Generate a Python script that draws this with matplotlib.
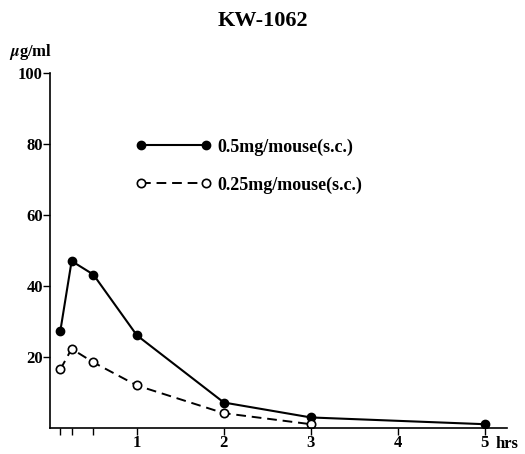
"""Serum concentration of KW-1062 after s.c. dosing in mice, two dose levels."""

import matplotlib

matplotlib.use("Agg")
import matplotlib.pyplot as plt

# sampling times (hrs) and serum levels (ug/ml)
hours_high = [0.12, 0.25, 0.5, 1, 2, 3, 5]
conc_high = [27.3, 47.0, 43.2, 26.1, 7.2, 3.0, 1.1]

hours_low = [0.12, 0.25, 0.5, 1, 2, 3]
conc_low = [16.5, 22.3, 18.5, 12.0, 4.2, 1.1]

label_high = "0.5mg/mouse(s.c.)"
label_low = "0.25mg/mouse(s.c.)"

x_ticks = [0.12, 0.25, 0.5, 1, 2, 3, 4, 5]
x_ticklabels = ["", "", "", "1", "2", "3", "4", "5"]
y_ticks = [20, 40, 60, 80, 100]

plt.rcParams["font.family"] = ["Liberation Serif", "DejaVu Serif"]
plt.rcParams["font.weight"] = "bold"
plt.rcParams["mathtext.fontset"] = "stix"

fig = plt.figure(figsize=(5.25, 4.54), dpi=100)
ax = fig.add_axes([0.095, 0.057, 0.87, 0.783])

ax.plot(hours_high, conc_high, color="black", lw=1.5, marker="o",
        ms=6, mfc="black", mec="black", label=label_high)
ax.plot(hours_low, conc_low, color="black", lw=1.4, ls=(0, (5, 3)),
        marker="o", ms=6, mfc="white", mec="black", mew=1.2,
        label=label_low)

ax.set_xlim(0, 5.25)
ax.set_ylim(0, 100)
ax.set_xticks(x_ticks)
ax.set_xticklabels(x_ticklabels)
ax.set_yticks(y_ticks)
ax.tick_params(axis="both", direction="out", length=5, width=1,
               labelsize=12)
ax.tick_params(axis="x", pad=0)
ax.tick_params(axis="y", pad=0)
ax.spines[["top", "right"]].set_visible(False)
ax.spines[["left", "bottom"]].set_linewidth(1.2)

ax.text(5.12, -0.022, "hrs", transform=ax.get_xaxis_transform(),
        ha="left", va="top", fontsize=12)
ax.text(-0.042, 1.03, r"$\mu$g/ml", transform=ax.transAxes,
        ha="center", va="bottom", fontsize=12)
fig.text(0.5, 0.953, "KW-1062", ha="center", va="center", fontsize=16)

ax.legend(loc="upper left", bbox_to_anchor=(0.258, 0.695),
          bbox_transform=fig.transFigure, frameon=False,
          numpoints=2, handlelength=4.2, handletextpad=0.35,
          labelspacing=1.15, fontsize=13, borderaxespad=0, borderpad=0)

fig.savefig("out.png", dpi=100)
